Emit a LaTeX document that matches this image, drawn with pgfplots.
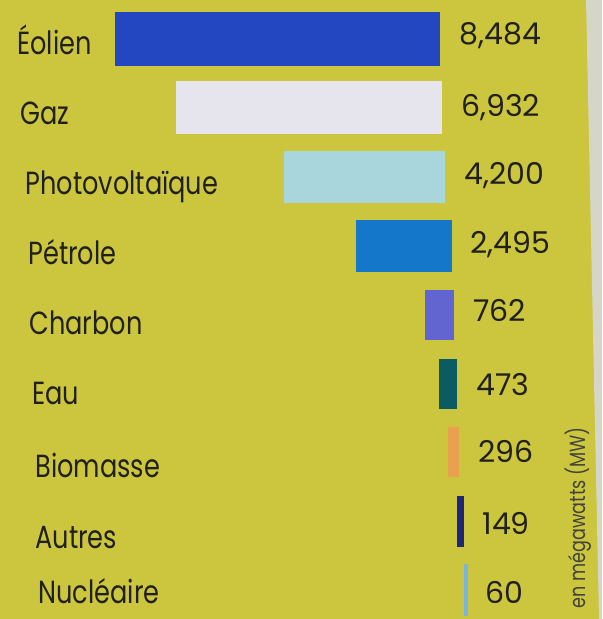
\documentclass[border=0pt]{standalone}
\usepackage{fontspec}
\setmainfont{Poppins}
\newfontfamily\labelfont{Poppins}[FakeStretch=0.8]
\newfontfamily\numfont{Poppins}
\usepackage{pgfplots}
\pgfplotsset{compat=1.18}
\definecolor{bg}{RGB}{203,198,62}
\definecolor{strip}{RGB}{214,214,200}
\definecolor{txt}{RGB}{34,32,28}
\definecolor{cEol}{RGB}{35,71,192}
\definecolor{cGaz}{RGB}{230,228,236}
\definecolor{cPV}{RGB}{169,214,221}
\definecolor{cPet}{RGB}{21,119,201}
\definecolor{cCha}{RGB}{98,100,207}
\definecolor{cEau}{RGB}{11,92,98}
\definecolor{cBio}{RGB}{233,160,79}
\definecolor{cAut}{RGB}{29,38,120}
\definecolor{cNuc}{RGB}{121,181,221}
\begin{document}
\begin{tikzpicture}
\begin{axis}[
  scale only axis,
  width=301pt, height=309.5pt,
  x dir=reverse, y dir=reverse,
  xmin=-3915, xmax=11799,
  ymin=-0.566, ymax=8.418,
  axis line style={draw=none},
  axis background/.style={fill=bg},
  xtick=\empty, ytick=\empty,
  clip=false,
]
\fill[strip] (axis cs:-3498,-0.566) -- (axis cs:-3915,-0.566) -- (axis cs:-3915,8.418) -- (axis cs:-3837,8.418) -- cycle;
\pgfplotsset{mybar/.style={xbar, bar width=25pt, bar shift=0pt, draw=none}}
\addplot[mybar, bar width=27pt, fill=cEol, xshift=-6pt] coordinates {(8484,0)};
\addplot[mybar, bar width=26.5pt, fill=cGaz, xshift=-5pt] coordinates {(6932,1)};
\addplot[mybar, bar width=26pt, fill=cPV, xshift=-3.5pt] coordinates {(4200,2)};
\addplot[mybar, bar width=26pt, fill=cPet, xshift=0pt] coordinates {(2495,3)};
\addplot[mybar, fill=cCha, xshift=1pt] coordinates {(762,4)};
\addplot[mybar, fill=cEau, xshift=2.5pt] coordinates {(473,5)};
\addplot[mybar, fill=cBio, xshift=3.5pt] coordinates {(296,6)};
\addplot[mybar, fill=cAut, draw=cAut, line width=0.6pt, xshift=5.5pt] coordinates {(149,7)};
\addplot[mybar, fill=cNuc, draw=cNuc, line width=1.1pt, xshift=7.5pt] coordinates {(60,8)};
% category labels
\addplot[draw=none, mark=none, nodes near coords, point meta=explicit symbolic,
  every node near coord/.append style={anchor=base west, inner sep=0pt, font=\labelfont\fontsize{16}{19}\selectfont, text=txt}]
  coordinates {(11355,0.232) [Éolien] (11277,1.248) [Gaz] (11146,2.264) [Photovoltaïque] (11068,3.28) [Pétrole]
   (11040,4.296) [Charbon] (10963,5.298) [Eau] (10885,6.357) [Biomasse] (10885,7.388) [Autres] (10807,8.2) [Nucléaire]};
% values
\addplot[draw=none, mark=none, nodes near coords, point meta=explicit symbolic,
  every node near coord/.append style={anchor=base west, inner sep=0pt, font=\numfont\fontsize{15}{18}\selectfont, text=txt}]
  coordinates {(-183,0.087) [8,484] (-235,1.132) [6,932] (-313,2.119) [4,200] (-470,3.106) [2,495]
   (-548,4.107) [762] (-626,5.167) [473] (-679,6.153) [296] (-783,7.198) [149] (-861,8.2) [60]};
\node[rotate=90, text=txt!85, font=\labelfont\fontsize{11}{13}\selectfont] at (axis cs:-3289,6.95) {en mégawatts (MW)};
\end{axis}
\end{tikzpicture}
\end{document}
